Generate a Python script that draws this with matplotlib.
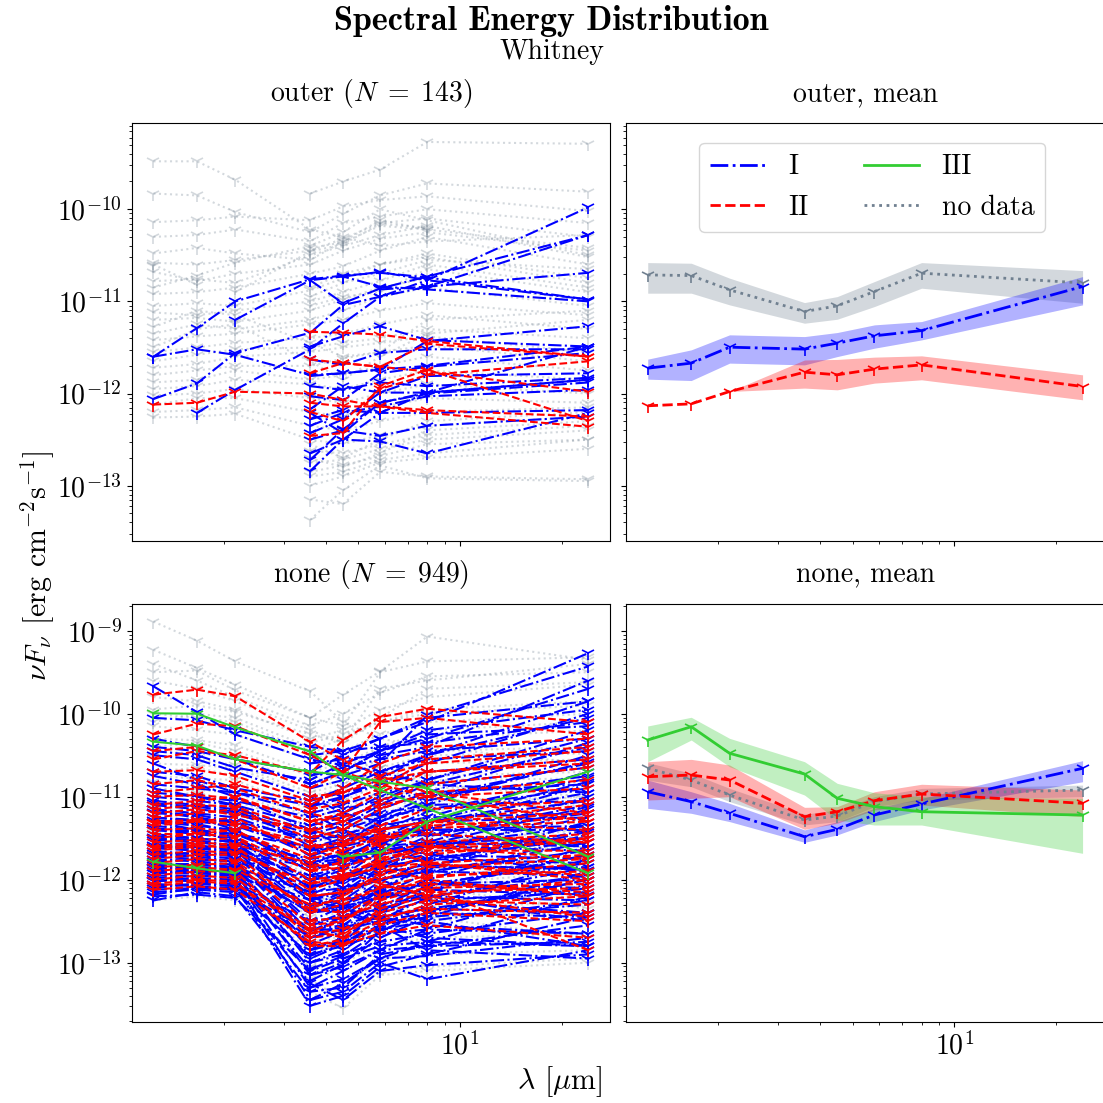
import numpy as np
import matplotlib
matplotlib.use("Agg")
import matplotlib.pyplot as plt
from matplotlib.lines import Line2D

nan = np.nan

# Bands: 2MASS J, H, Ks, IRAC 3.6, 4.5, 5.8, 8.0, MIPS 24 (micron)
wavelength_um = [1.235, 1.662, 2.159, 3.6, 4.5, 5.8, 8.0, 24.0]

classes = ["I", "II", "III", "no data"]

# ---------------- per-source SEDs, log10(nuFnu / erg cm^-2 s^-1) ----------------
outer_I = [
    [-11.60, -11.29, -11.00, -10.76, -10.72, -10.69, -10.74, -10.98],
    [-12.06, -11.89, -11.56, -11.34, -11.04, -10.95, -10.84, -10.28],
    [-11.60, -11.52, -11.58, -11.80, -11.78, -11.74, -11.70, -11.49],
    [nan, -12.21, -11.96, -11.52, -11.24, -10.95, -10.77, -9.98],
    [nan, nan, -11.20, -10.77, -10.73, -10.84, -10.87, -11.00],
    [nan, nan, nan, -10.77, -11.02, -10.86, -10.73, -10.28],
    [nan, nan, nan, -12.84, -12.50, -12.21, -11.99, -11.49],
    [nan, nan, nan, -12.65, -12.50, -12.52, -12.65, -12.21],
    [nan, nan, nan, -12.21, -12.43, -12.10, -11.99, -11.85],
    [nan, nan, nan, -11.81, -11.78, -11.74, -11.43, -11.27],
    [nan, nan, nan, -11.49, -11.38, -11.27, -11.42, -11.49],
    [nan, nan, nan, -12.28, -12.18, -12.21, -12.21, -12.18],
    [nan, nan, nan, -12.17, -11.92, -11.99, -11.99, -11.85],
    [nan, nan, nan, -12.03, -12.07, -11.78, -11.71, -11.56],
    [nan, nan, nan, -12.43, -12.28, -11.99, -11.81, -11.78],
    [nan, nan, nan, nan, -10.73, -10.68, -10.77, -10.98],
    [nan, nan, nan, nan, nan, -10.87, -10.84, -10.69],
    [nan, nan, nan, -12.72, -12.39, -12.10, -12.00, -11.88],
    [nan, nan, nan, -11.92, -11.96, -11.88, -11.92, -11.83],
    [nan, nan, nan, -11.63, -11.69, -11.56, -11.52, -11.52],
    [nan, nan, nan, -12.50, -12.40, -12.46, -12.35, -12.25],
    [nan, nan, nan, -12.35, -12.21, -12.14, -12.03, -11.96],
]
outer_II = [
    [-12.12, -12.10, -11.98, -12.00, -12.07, -12.14, -12.18, -12.25],
    [nan, nan, nan, -11.33, -11.34, -11.36, -11.43, -11.60],
    [nan, nan, nan, -11.63, -11.67, -11.71, -11.76, -11.98],
    [nan, nan, nan, -12.46, -12.43, -11.92, -11.74, -12.30],
    [nan, nan, nan, -12.10, -12.14, -12.14, -12.21, -12.36],
    [nan, nan, nan, -11.78, -11.67, -11.71, -11.46, -11.60],
    [nan, nan, nan, -12.20, -12.30, -11.95, -11.80, -11.65],
]
outer_nd = [
    [-9.48, -9.48, -9.68, -10.22, -10.30, -10.40, -10.35, -10.28],
    [nan, nan, nan, -9.83, -9.70, -9.57, -9.27, -9.29],
    [-9.83, -9.85, -10.03, -10.25, -10.05, -9.85, -9.72, -9.81],
    [-10.14, -10.12, -10.08, -10.12, -9.97, -9.90, -9.86, -10.02],
    [-10.48, -10.42, -10.48, -10.55, -10.35, -10.12, -10.22, -10.42],
    [-10.58, -10.60, -10.55, -10.45, -10.32, -10.15, -10.10, -10.30],
    [-10.68, -10.78, -10.70, -10.60, -10.45, -10.32, -10.25, -10.45],
    [-10.78, -10.76, -10.80, -10.50, -10.40, -10.28, -10.18, -10.52],
    [-10.92, -10.90, -10.85, -10.70, -10.62, -10.45, -10.30, -10.60],
    [-11.05, -11.02, -11.05, -10.88, -10.75, -10.60, -10.48, -10.75],
    [-11.12, -11.15, -11.10, -11.00, -10.90, -10.78, -10.60, -10.85],
    [-11.20, -11.18, -11.22, -11.10, -10.98, -10.85, -10.75, -11.00],
    [-11.35, -11.25, -11.30, -11.20, -11.10, -10.95, -10.85, -11.05],
    [-11.42, -11.38, -11.35, -11.25, -11.20, -11.10, -11.02, -11.15],
    [-11.55, -11.50, -11.45, -11.40, -11.35, -11.25, -11.15, -11.30],
    [-11.65, -11.58, -11.52, -11.50, -11.45, -11.40, -11.30, -11.40],
    [-11.72, -11.68, -11.60, -11.55, -11.50, -11.45, -11.38, -11.55],
    [-11.80, -11.75, -11.70, -11.70, -11.62, -11.55, -11.48, -11.65],
    [-11.88, -11.85, -11.75, -11.85, -11.80, -11.70, -11.60, -11.75],
    [-11.95, -11.92, -11.85, -11.90, -11.95, -11.85, -11.75, -11.85],
    [-12.02, -12.00, -11.95, -12.05, -12.10, -12.00, -11.90, -12.00],
    [-12.12, -12.05, -12.05, -12.20, -12.25, -12.15, -12.05, -12.10],
    [-12.20, -12.18, -12.15, -12.35, -12.40, -12.30, -12.20, -12.15],
    [-12.26, -12.25, -12.22, -12.50, -12.55, -12.45, -12.35, -12.25],
    [nan, nan, nan, -12.62, -12.65, -12.55, -12.45, -12.35],
    [nan, nan, nan, -12.75, -12.72, -12.60, -12.50, -12.40],
    [nan, nan, nan, -12.85, -12.78, -12.68, -12.55, -12.50],
    [nan, nan, nan, -13.00, -12.90, -12.75, -12.70, -12.60],
    [nan, nan, nan, -13.15, -13.20, -12.85, -12.90, -12.93],
    [nan, nan, nan, -13.37, -13.05, -12.78, -12.92, -12.95],
    [nan, nan, nan, -12.90, -12.85, -12.72, -12.65, -12.50],
    [nan, nan, nan, -12.70, -12.80, -12.65, -12.40, -12.30],
    [nan, nan, nan, -12.55, -12.70, -12.50, -12.30, -12.20],
    [nan, nan, nan, -10.85, -10.70, -10.60, -10.52, -10.80],
    [nan, nan, nan, -10.95, -10.80, -10.70, -10.55, -10.65],
    [nan, nan, nan, -11.05, -10.95, -10.90, -10.65, -10.90],
    [-10.30, -10.28, -10.22, -10.35, -10.15, -10.08, -10.00, -10.15],
    [-10.85, -10.72, -10.58, -10.40, -10.25, -10.00, -10.12, -10.50],
    [-11.28, -11.10, -11.15, -11.45, -11.60, -11.55, -11.20, -11.10],
    [-11.50, -11.30, -11.25, -11.65, -11.85, -11.60, -11.35, -11.20],
    [-10.60, -10.82, nan, -10.42, -10.36, -10.18, -10.22, nan],
    [-10.62, nan, -10.90, -10.46, -10.38, -10.16, -10.20, nan],
]

none_I = [
    [-9.67, -9.98, -10.25, -10.55, -10.62, -10.70, -10.85, -10.95],
    [-10.05, -10.08, -10.20, -10.40, -10.45, -10.30, -10.10, -9.27],
    [-10.30, -10.40, -10.55, -10.70, -10.75, -10.60, -10.02, -9.43],
    [-10.45, -10.50, -10.65, -10.80, -10.60, -10.45, -10.30, -9.70],
    [-10.70, -10.75, -10.90, -11.05, -10.90, -10.70, -10.50, -9.85],
    [-10.85, -10.90, -10.95, -11.10, -11.00, -10.85, -10.60, -10.00],
    [-11.00, -11.05, -11.10, -11.35, -11.20, -11.00, -10.80, -10.20],
    [-11.10, -11.15, -11.20, -11.50, -11.40, -11.15, -10.95, -10.35],
    [-11.20, -11.22, -11.30, -11.70, -11.55, -11.30, -11.10, -10.50],
    [-11.30, -11.35, -11.40, -11.90, -11.75, -11.50, -11.25, -10.70],
    [-11.40, -11.45, -11.50, -12.10, -11.95, -11.65, -11.40, -10.85],
    [-11.50, -11.52, -11.60, -12.25, -12.10, -11.80, -11.55, -11.00],
    [-11.55, -11.58, -11.65, -12.40, -12.25, -11.95, -11.70, -11.15],
    [-11.62, -11.65, -11.70, -12.55, -12.40, -12.10, -11.85, -11.30],
    [-11.70, -11.72, -11.78, -12.70, -12.55, -12.25, -12.00, -11.45],
    [-11.75, -11.78, -11.82, -12.85, -12.70, -12.40, -12.15, -11.60],
    [-11.82, -11.85, -11.88, -13.00, -12.85, -12.55, -12.30, -11.75],
    [-11.88, -11.90, -11.92, -13.15, -13.00, -12.70, -12.45, -11.90],
    [-11.95, -11.95, -11.98, -13.30, -13.10, -12.85, -12.60, -12.05],
    [-12.02, -12.00, -12.02, -13.45, -13.25, -12.95, -12.75, -12.20],
    [-12.10, -12.05, -12.08, -13.52, -13.40, -13.05, -12.90, -12.45],
    [-12.18, -12.10, -12.12, -13.25, -13.45, -13.10, -13.03, -12.90],
    [-12.25, -12.15, -12.20, -13.35, -13.30, -12.90, -12.80, -12.75],
    [-11.35, -11.40, -11.45, -11.60, -11.55, -11.45, -11.40, -11.35],
    [-11.45, -11.50, -11.55, -11.75, -11.70, -11.60, -11.55, -11.50],
    [-11.60, -11.62, -11.65, -11.85, -11.80, -11.70, -11.60, -11.65],
    [-11.65, -11.70, -11.75, -12.00, -11.95, -11.85, -11.75, -11.80],
    [-11.80, -11.82, -11.85, -12.15, -12.10, -12.00, -11.90, -11.95],
    [-11.90, -11.92, -11.95, -12.30, -12.25, -12.15, -12.05, -12.10],
    [-12.00, -12.02, -12.05, -12.50, -12.45, -12.35, -12.20, -12.25],
    [-12.05, -12.08, -12.10, -12.70, -12.60, -12.50, -12.40, -12.45],
    [-12.15, -12.12, -12.15, -12.90, -12.80, -12.65, -12.60, -12.65],
    [-12.20, -12.18, -12.22, -13.10, -12.95, -12.80, -12.75, -12.80],
    [nan, nan, nan, -10.50, -10.45, -10.40, -10.35, -10.10],
    [nan, nan, nan, -10.60, -10.55, -10.50, -10.40, -9.60],
    [nan, nan, nan, -10.75, -10.65, -10.55, -10.45, -10.30],
    [nan, nan, nan, -10.90, -10.80, -10.70, -10.55, -10.45],
    [nan, nan, nan, -11.05, -10.95, -10.85, -10.70, -10.55],
    [nan, nan, nan, -11.20, -11.10, -10.95, -10.85, -10.65],
    [nan, nan, nan, -11.35, -11.25, -11.10, -11.00, -10.75],
    [nan, nan, nan, -11.50, -11.40, -11.25, -11.15, -10.90],
    [nan, nan, nan, -11.65, -11.55, -11.40, -11.30, -11.05],
    [nan, nan, nan, -11.80, -11.70, -11.55, -11.45, -11.20],
    [nan, nan, nan, -11.95, -11.85, -11.70, -11.60, -11.35],
    [nan, nan, nan, -12.10, -12.00, -11.85, -11.75, -11.50],
    [nan, nan, nan, -12.25, -12.15, -12.00, -11.90, -11.65],
    [nan, nan, nan, -12.40, -12.30, -12.15, -12.05, -11.80],
    [nan, nan, nan, -12.55, -12.45, -12.30, -12.20, -11.95],
    [nan, nan, nan, -12.70, -12.60, -12.45, -12.35, -12.10],
    [nan, nan, nan, -12.85, -12.75, -12.60, -12.50, -12.25],
    [nan, nan, nan, -13.00, -12.90, -12.75, -12.65, -12.40],
    [nan, nan, nan, -13.15, -13.05, -12.85, -12.80, -12.55],
    [nan, nan, nan, -13.30, -13.20, -12.95, -12.92, -12.70],
    [nan, nan, nan, -13.45, -13.35, -13.00, -13.20, -12.85],
    [-10.95, -11.00, -11.05, -11.25, -11.15, -11.05, -10.95, -10.85],
    [-11.05, -11.10, -11.15, -11.40, -11.30, -11.20, -11.10, -11.05],
    [-11.15, -11.20, -11.25, -11.55, -11.45, -11.35, -11.25, -11.20],
    [-11.25, -11.30, -11.35, -11.65, -11.60, -11.50, -11.40, -11.40],
    [-11.40, -11.42, -11.45, -11.80, -11.75, -11.65, -11.55, -11.60],
    [-11.50, -11.55, -11.60, -12.00, -11.95, -11.80, -11.70, -11.75],
    [-11.70, -11.68, -11.72, -12.20, -12.15, -12.00, -11.85, -11.85],
    [-11.85, -11.80, -11.85, -12.40, -12.35, -12.20, -12.05, -12.00],
    [-11.98, -11.95, -11.95, -12.60, -12.55, -12.40, -12.25, -12.15],
    [-12.08, -12.05, -12.05, -12.80, -12.75, -12.55, -12.45, -12.30],
    [-10.50, -10.55, -10.70, -11.00, -11.20, -11.30, -11.45, -11.60],
    [-10.60, -10.80, -10.95, -11.20, -11.40, -11.55, -11.70, -11.90],
    [-10.75, -10.85, -11.00, -11.40, -11.60, -11.80, -12.00, -12.20],
    [-10.90, -11.00, -11.10, -11.60, -11.80, -12.00, -12.20, -12.50],
    [-11.15, -11.25, -11.40, -11.90, -12.10, -12.30, -12.50, -12.80],
    [-11.30, -11.40, -11.55, -12.20, -12.35, -12.55, -12.85, -12.95],
    [-11.08, -11.12, -11.18, -11.45, -11.35, -11.10, -10.85, -10.40],
    [-11.18, -11.25, -11.32, -11.62, -11.50, -11.25, -11.00, -10.60],
    [-11.28, -11.33, -11.42, -11.80, -11.68, -11.42, -11.18, -10.78],
    [-11.38, -11.42, -11.48, -12.00, -11.85, -11.58, -11.32, -10.95],
    [-11.48, -11.50, -11.55, -12.18, -12.02, -11.72, -11.48, -11.10],
    [-11.58, -11.60, -11.62, -12.35, -12.18, -11.88, -11.62, -11.25],
    [-11.68, -11.68, -11.70, -12.50, -12.32, -12.02, -11.78, -11.40],
    [-11.78, -11.76, -11.78, -12.62, -12.48, -12.18, -11.92, -11.55],
    [-11.86, -11.85, -11.86, -12.78, -12.62, -12.32, -12.08, -11.70],
    [-11.92, -11.92, -11.94, -12.95, -12.78, -12.48, -12.22, -11.85],
    [-12.00, -11.98, -12.00, -13.08, -12.92, -12.62, -12.38, -12.00],
    [-11.25, -11.28, -11.30, -11.50, -11.48, -11.40, -11.30, -11.25],
    [-11.52, -11.55, -11.58, -11.82, -11.78, -11.66, -11.58, -11.55],
    [-11.72, -11.75, -11.78, -12.08, -12.02, -11.92, -11.82, -11.88],
    [-11.92, -11.90, -11.92, -12.38, -12.32, -12.22, -12.12, -12.18],
    [-12.12, -12.10, -12.12, -12.62, -12.58, -12.45, -12.35, -12.40],
    [nan, nan, nan, -11.12, -11.02, -10.78, -10.50, -10.05],
    [nan, nan, nan, -11.42, -11.30, -11.05, -10.80, -10.30],
    [nan, nan, nan, -11.72, -11.58, -11.30, -11.05, -10.58],
    [nan, nan, nan, -12.02, -11.88, -11.58, -11.30, -10.82],
    [nan, nan, nan, -12.32, -12.15, -11.85, -11.58, -11.12],
    [nan, nan, nan, -12.62, -12.45, -12.12, -11.85, -11.42],
    [nan, nan, nan, -12.92, -12.75, -12.38, -12.12, -11.70],
    [nan, nan, nan, -13.22, -13.02, -12.62, -12.40, -12.00],
    [nan, nan, nan, -10.70, -10.50, -10.30, -10.05, -9.85],
    [nan, nan, nan, -10.85, -10.70, -10.45, -10.20, -9.95],
    [-10.40, -10.45, -10.55, -10.85, -10.70, -10.45, -10.25, -10.15],
    [-11.60, -11.62, -11.68, -11.95, -12.05, -12.15, -12.25, -12.40],
    [-11.85, -11.88, -11.90, -12.25, -12.35, -12.45, -12.55, -12.65],
    [nan, nan, nan, -12.25, -12.40, -12.55, -12.70, -12.80],
]
none_II = [
    [-9.77, -9.71, -9.79, -10.34, -10.56, -10.75, -10.95, -11.20],
    [-10.25, -10.12, -10.15, -10.50, -10.70, -10.85, -11.00, -11.30],
    [-10.55, -10.45, -10.50, -10.72, -10.32, -10.04, -9.94, -10.10],
    [-10.45, -10.40, -10.55, -10.90, -10.70, -10.10, -10.05, -10.25],
    [-10.95, -10.90, -10.85, -11.10, -10.90, -10.60, -10.40, -10.30],
    [-11.10, -11.05, -11.00, -11.30, -11.20, -10.95, -10.70, -10.55],
    [-11.25, -11.20, -11.15, -11.50, -11.40, -11.15, -10.95, -10.80],
    [-11.35, -11.30, -11.25, -11.70, -11.60, -11.35, -11.15, -11.05],
    [-11.45, -11.45, -11.40, -11.85, -11.80, -11.55, -11.35, -11.25],
    [-11.55, -11.52, -11.50, -12.00, -11.95, -11.75, -11.60, -11.50],
    [-11.65, -11.60, -11.60, -12.20, -12.15, -11.95, -11.80, -11.70],
    [-11.75, -11.70, -11.70, -12.40, -12.30, -12.10, -11.95, -11.90],
    [-11.85, -11.82, -11.80, -12.55, -12.50, -12.25, -12.10, -12.05],
    [-11.95, -11.90, -11.90, -12.70, -12.65, -12.40, -12.25, -12.30],
    [-12.05, -12.00, -12.02, -12.80, -12.80, -12.55, -12.40, -12.50],
    [-12.12, -12.08, -12.12, -12.75, -12.78, -12.65, -12.55, -12.70],
    [nan, nan, nan, -11.00, -10.95, -10.80, -10.70, -10.60],
    [nan, nan, nan, -11.30, -11.25, -11.10, -11.00, -10.90],
    [nan, nan, nan, -11.60, -11.55, -11.40, -11.30, -11.20],
    [nan, nan, nan, -11.90, -11.85, -11.70, -11.55, -11.45],
    [nan, nan, nan, -12.20, -12.15, -12.00, -11.85, -11.75],
    [nan, nan, nan, -12.50, -12.45, -12.30, -12.15, -12.10],
    [nan, nan, nan, -12.65, -12.60, -12.45, -12.35, -12.40],
    [-11.30, -11.28, -11.35, -11.55, -11.70, -11.85, -12.00, -12.20],
    [-11.60, -11.55, -11.58, -11.80, -11.90, -12.05, -12.20, -12.45],
    [-11.40, -11.38, -11.42, -11.75, -11.65, -11.50, -11.45, -11.55],
    [-11.70, -11.65, -11.68, -12.05, -11.98, -11.85, -11.80, -11.95],
    [-11.90, -11.85, -11.88, -12.30, -12.25, -12.10, -12.05, -12.15],
    [-11.20, -11.15, -11.22, -11.40, -11.50, -11.40, -11.30, -11.40],
    [-10.85, -10.80, -10.90, -11.20, -11.30, -11.45, -11.60, -11.75],
    [nan, nan, nan, -12.35, -12.40, -12.20, -12.10, -12.85],
    [-12.00, -11.95, -11.98, -12.60, -12.70, -12.35, -12.20, -12.00],
    [-11.15, -11.10, -11.12, -11.42, -11.30, -11.05, -10.85, -10.65],
    [-11.50, -11.45, -11.48, -11.90, -11.78, -11.52, -11.30, -11.10],
    [-11.80, -11.75, -11.78, -12.35, -12.20, -11.92, -11.70, -11.50],
    [-12.08, -12.02, -12.05, -12.62, -12.50, -12.20, -11.98, -11.80],
    [-11.62, -11.58, -11.62, -12.12, -12.00, -11.82, -11.65, -11.65],
    [-11.32, -11.30, -11.32, -11.62, -11.58, -11.48, -11.38, -11.30],
    [nan, nan, nan, -11.15, -11.08, -10.90, -10.55, -10.40],
    [nan, nan, nan, -12.05, -11.95, -11.78, -11.62, -11.55],
    [nan, nan, nan, -12.80, -12.72, -12.50, -12.30, -12.20],
    [-10.70, -10.68, -10.75, -11.05, -10.95, -10.75, -10.60, -10.45],
    [-11.00, -10.98, -11.02, -11.30, -11.40, -11.60, -11.80, -12.00],
]
none_III = [
    [-9.995, -10.00, -10.164, -10.457, -10.738, -10.819, -10.899, -11.722],
    [-10.337, -10.385, -10.55, -10.698, -10.738, -10.919, -11.14, -11.923],
    [-11.783, -11.863, -11.923, nan, -11.722, -11.674, -11.30, -10.698],
]
none_nd = [
    [-8.89, -9.12, -9.37, -9.73, -10.10, -10.30, -10.40, -10.60],
    [-9.23, -9.45, -9.65, -10.05, -9.77, -9.49, -9.07, -9.35],
    [-9.50, -9.48, -9.72, -10.05, -10.15, -9.50, -9.37, -9.32],
    [-9.60, -9.70, -9.85, -10.20, -10.35, -9.70, -9.60, -9.40],
    [-9.80, -9.85, -9.95, -10.30, -10.20, -9.95, -9.80, -9.65],
    [-10.00, -10.05, -10.10, -10.45, -10.30, -10.10, -9.95, -9.85],
    [-10.15, -10.20, -10.25, -10.55, -10.45, -10.25, -10.10, -10.00],
    [-10.30, -10.32, -10.38, -10.70, -10.60, -10.40, -10.30, -10.20],
    [-10.45, -10.48, -10.52, -10.85, -10.75, -10.55, -10.45, -10.40],
    [-10.60, -10.62, -10.65, -11.00, -10.90, -10.70, -10.60, -10.55],
    [-10.75, -10.78, -10.80, -11.15, -11.05, -10.85, -10.75, -10.70],
    [-10.90, -10.92, -10.95, -11.30, -11.20, -11.00, -10.90, -10.85],
    [-11.05, -11.08, -11.10, -11.45, -11.40, -11.20, -11.05, -11.00],
    [-11.20, -11.22, -11.25, -11.65, -11.60, -11.40, -11.25, -11.20],
    [-11.35, -11.38, -11.40, -11.85, -11.80, -11.60, -11.45, -11.40],
    [-11.50, -11.52, -11.55, -12.05, -12.00, -11.80, -11.65, -11.60],
    [-11.65, -11.68, -11.70, -12.25, -12.20, -12.00, -11.85, -11.80],
    [-11.80, -11.82, -11.85, -12.45, -12.40, -12.20, -12.05, -12.00],
    [-11.95, -11.97, -12.00, -12.65, -12.60, -12.40, -12.25, -12.20],
    [-12.10, -12.10, -12.15, -12.85, -12.80, -12.60, -12.45, -12.40],
    [-12.25, -12.20, -12.25, -13.05, -13.00, -12.80, -12.70, -12.65],
    [nan, nan, nan, -13.20, -13.45, -13.10, -13.05, -12.95],
    [nan, nan, nan, -12.95, -13.30, -12.95, -12.90, -12.85],
    [nan, nan, nan, -10.35, -10.25, -10.10, -10.00, -9.90],
    [nan, nan, nan, -10.90, -10.70, -10.40, -10.20, -10.10],
    [-10.10, -10.00, -10.05, -10.40, -10.55, -10.65, -10.85, -11.00],
    [-10.40, -10.35, -10.45, -10.75, -10.90, -11.00, -11.15, -11.35],
    [-10.70, -10.65, -10.75, -11.05, -11.25, -11.35, -11.45, -11.70],
    [-11.00, -10.95, -11.05, -11.35, -11.55, -11.65, -11.80, -12.00],
    [-11.30, -11.25, -11.35, -11.65, -11.85, -11.95, -12.10, -12.35],
    [-11.60, -11.55, -11.65, -11.95, -12.15, -12.25, -12.45, -12.70],
    [nan, nan, nan, -11.50, -11.45, -11.30, -11.10, -11.00],
    [nan, nan, nan, -12.00, -11.95, -11.75, -11.55, -11.40],
    [nan, nan, nan, -12.50, -12.45, -12.25, -12.05, -11.90],
    [-9.95, -9.90, -9.98, -10.25, -10.35, -10.05, -9.70, -9.62],
    [-10.52, -10.55, -10.62, -10.95, -10.85, -10.65, -10.50, -10.48],
    [-10.82, -10.85, -10.90, -11.25, -11.15, -10.95, -10.80, -10.78],
    [-11.12, -11.15, -11.20, -11.55, -11.48, -11.28, -11.12, -11.10],
    [-11.42, -11.45, -11.50, -11.95, -11.88, -11.68, -11.52, -11.48],
    [-11.72, -11.75, -11.80, -12.35, -12.28, -12.08, -11.92, -11.88],
    [-12.02, -12.05, -12.08, -12.75, -12.68, -12.48, -12.32, -12.28],
    [nan, nan, nan, -13.35, -13.55, -13.15, -13.10, -13.00],
    [-9.40, -9.60, -9.80, -10.15, -10.00, -9.75, -9.55, -9.50],
]

# ---------------- class means with spread, log10 ----------------
outer_mean_I = [-11.725, -11.670, -11.497, -11.518, -11.453, -11.374, -11.317, -10.839]
outer_lo_I = [-11.844, -11.859, -11.670, -11.689, -11.599, -11.508, -11.418, -11.038]
outer_hi_I = [-11.627, -11.526, -11.363, -11.382, -11.338, -11.255, -11.219, -10.731]
outer_mean_II = [-12.133, -12.112, -11.978, -11.768, -11.797, -11.735, -11.689, -11.924]
outer_lo_II = [-12.133, -12.112, -11.978, -11.941, -11.960, -11.887, -11.851, -12.068]
outer_hi_II = [-12.133, -12.112, -11.978, -11.636, -11.630, -11.605, -11.591, -11.797]
outer_mean_nd = [-10.713, -10.720, -10.875, -11.110, -11.049, -10.893, -10.694, -10.800]
outer_lo_nd = [-10.911, -10.911, -11.038, -11.237, -11.194, -11.056, -10.857, -11.020]
outer_hi_nd = [-10.579, -10.586, -10.748, -11.013, -10.948, -10.785, -10.579, -10.666]

none_mean_I = [-10.940, -11.060, -11.200, -11.482, -11.393, -11.220, -11.088, -10.658]
none_lo_I = [-11.140, -11.200, -11.300, -11.550, -11.460, -11.300, -11.160, -10.820]
none_hi_I = [-10.800, -10.940, -11.080, -11.400, -11.300, -11.140, -11.020, -10.566]
none_mean_II = [-10.759, -10.739, -10.799, -11.241, -11.181, -11.048, -10.967, -11.080]
none_lo_II = [-11.040, -11.020, -11.000, -11.393, -11.320, -11.160, -11.100, -11.240]
none_hi_II = [-10.578, -10.550, -10.618, -11.128, -11.120, -10.940, -10.850, -10.920]
none_mean_III = [-10.317, -10.157, -10.477, -10.727, -11.019, -11.120, -11.181, -11.221]
none_lo_III = [-10.578, -10.317, -10.639, -10.980, -11.281, -11.341, -11.341, -11.682]
none_hi_III = [-10.148, -10.043, -10.297, -10.578, -10.839, -10.952, -11.000, -11.019]
none_mean_nd = [-10.658, -10.799, -10.980, -11.281, -11.233, -11.060, -10.967, -10.919]
none_lo_nd = [-10.800, -10.880, -11.060, -11.340, -11.300, -11.120, -11.040, -11.000]
none_hi_nd = [-10.590, -10.718, -10.899, -11.210, -11.160, -11.000, -10.900, -10.860]

# ---------------- styling ----------------
plt.rcParams.update({
    "font.family": "serif",
    "font.serif": ["cmr10"],
    "mathtext.fontset": "cm",
    "axes.formatter.use_mathtext": True,
    "font.size": 20,
})

style = {
    "I": dict(color="blue", ls="-."),
    "II": dict(color="red", ls="--"),
    "III": dict(color="limegreen", ls="-"),
    "no data": dict(color="slategray", ls=":"),
}

W = 1103
fig = plt.figure(figsize=(W / 100, W / 100), dpi=100)


def pos(x0, y0, x1, y1):
    return [x0 / W, 1 - y1 / W, (x1 - x0) / W, (y1 - y0) / W]


ax_tl = fig.add_axes(pos(131.7, 122.7, 610.0, 540.7))
ax_tr = fig.add_axes(pos(626.0, 122.7, 1104.3, 540.7), sharex=ax_tl, sharey=ax_tl)
ax_bl = fig.add_axes(pos(131.7, 604.0, 610.0, 1021.7), sharex=ax_tl)
ax_br = fig.add_axes(pos(626.0, 604.0, 1104.3, 1021.7), sharex=ax_tl, sharey=ax_bl)

wl = np.array(wavelength_um)


def draw_sources(ax, groups):
    for cls, rows in groups:
        st = style[cls]
        alpha = 0.3 if cls == "no data" else 1.0
        for row in rows:
            ax.plot(wl, 10 ** np.array(row), color=st["color"], ls=st["ls"],
                    lw=1.5, marker="1", ms=10, mew=1.2, alpha=alpha)


def draw_means(ax, groups):
    for cls, m, lo, hi in groups:
        st = style[cls]
        ax.fill_between(wl, 10 ** np.array(lo), 10 ** np.array(hi),
                        color=st["color"], alpha=0.3, lw=0)
        ax.plot(wl, 10 ** np.array(m), color=st["color"], ls=st["ls"],
                lw=2, marker="1", ms=10, mew=1.2)


draw_sources(ax_tl, [("no data", outer_nd), ("I", outer_I), ("II", outer_II)])
draw_sources(ax_bl, [("no data", none_nd), ("I", none_I), ("II", none_II), ("III", none_III)])
draw_means(ax_tr, [("no data", outer_mean_nd, outer_lo_nd, outer_hi_nd),
                   ("I", outer_mean_I, outer_lo_I, outer_hi_I),
                   ("II", outer_mean_II, outer_lo_II, outer_hi_II)])
draw_means(ax_br, [("no data", none_mean_nd, none_lo_nd, none_hi_nd),
                   ("I", none_mean_I, none_lo_I, none_hi_I),
                   ("II", none_mean_II, none_lo_II, none_hi_II),
                   ("III", none_mean_III, none_lo_III, none_hi_III)])

for ax in (ax_tl, ax_tr, ax_bl, ax_br):
    ax.set_xscale("log")
    ax.set_yscale("log")

ax_tl.set_xlim(10 ** 0.0273, 10 ** 1.4446)
ax_tl.set_ylim(10 ** -13.597, 10 ** -9.061)
ax_bl.set_ylim(10 ** -13.711, 10 ** -8.678)

for ax in (ax_tl, ax_tr):
    ax.tick_params(axis="x", which="both", labelbottom=False)
for ax in (ax_tr, ax_br):
    ax.tick_params(axis="y", which="both", labelleft=False)

n_outer = 143
n_none = 949
title_kw = dict(fontsize=20, pad=15.5)
ax_tl.set_title(r"outer ($N\;=\;%d$)" % n_outer, **title_kw)
ax_tr.set_title("outer, mean", **title_kw)
ax_bl.set_title(r"none ($N\;=\;%d$)" % n_none, **title_kw)
ax_br.set_title("none, mean", **title_kw)

handles = [Line2D([], [], lw=2, **style[c]) for c in classes]
ax_tr.legend(handles, classes, ncol=2, loc="upper center",
             bbox_to_anchor=(0.515, 0.985))

fig.text(0.5, 1 - 21 / W, "Spectral Energy Distribution", family="cmb10",
         ha="center", va="center", fontsize=24.5)
fig.text(0.5, 1 - 52 / W, "Whitney", ha="center", va="center", fontsize=20)
fig.text(38 / W, 1 - 566 / W, r"$\nu F_\nu$ [erg cm$^{-2}$s$^{-1}$]", rotation=90,
         ha="center", va="center", fontsize=21.5)
fig.text(560 / W, 1 - 1082 / W, r"$\lambda$ [$\mu$m]", ha="center", va="center",
         fontsize=21.5)

fig.savefig("out.png", dpi=100)
